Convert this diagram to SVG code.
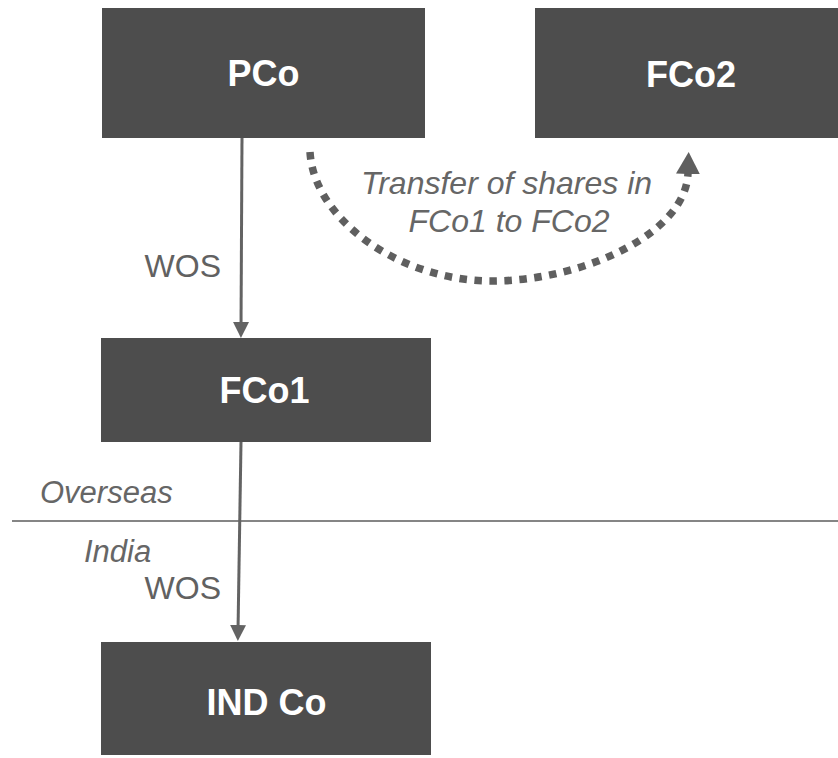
<svg xmlns="http://www.w3.org/2000/svg" width="838" height="758" viewBox="0 0 838 758">
  <style>
    .box { fill: #4d4d4d; }
    .box-label { font-family: "Liberation Sans", Arial, sans-serif; font-size: 36px; font-weight: bold; fill: #ffffff; text-anchor: middle; }
    .edge-label { font-family: "Liberation Sans", Arial, sans-serif; font-size: 32px; fill: #616161; }
    .note { font-family: "Liberation Sans", Arial, sans-serif; font-style: italic; fill: #666666; }
    .link { stroke: #636363; stroke-width: 3; fill: none; }
    .transfer { stroke: #5f5f5f; stroke-width: 7.5; fill: none; stroke-dasharray: 7.5 7.5; }
    .divider { stroke: #858585; stroke-width: 2; }
  </style>
  <defs>
    <marker id="head" viewBox="0 0 16 16" markerWidth="16" markerHeight="16" markerUnits="userSpaceOnUse" refX="6" refY="8" orient="auto">
      <path d="M0,0 L16,8 L0,16 z" fill="#636363"/>
    </marker>
    <marker id="head-big" viewBox="0 0 22 24" markerWidth="22" markerHeight="24" markerUnits="userSpaceOnUse" refX="1" refY="12" orient="auto">
      <path d="M0,0 L22,12 L0,24 z" fill="#5f5f5f"/>
    </marker>
  </defs>

  <!-- jurisdiction divider -->
  <line class="divider" x1="12" y1="521" x2="838" y2="521"/>
  <text class="note" x="40" y="503" font-size="31">Overseas</text>
  <text class="note" x="84" y="562" font-size="31">India</text>

  <!-- nodes -->
  <g id="pco">
    <rect class="box" x="102" y="8" width="323" height="130"/>
    <text class="box-label" x="263.5" y="86">PCo</text>
  </g>
  <g id="fco2">
    <rect class="box" x="535" y="8" width="310" height="130"/>
    <text class="box-label" x="691" y="87">FCo2</text>
  </g>
  <g id="fco1">
    <rect class="box" x="101" y="338" width="330" height="104"/>
    <text class="box-label" x="264.5" y="403">FCo1</text>
  </g>
  <g id="indco">
    <rect class="box" x="101" y="642" width="330" height="113"/>
    <text class="box-label" x="266.5" y="715">IND Co</text>
  </g>

  <!-- connectors -->
  <g id="connectors">
    <line class="link" x1="242" y1="138" x2="241" y2="328" marker-end="url(#head)"/>
    <line class="link" x1="241" y1="442" x2="238" y2="631" marker-end="url(#head)"/>
    <text class="edge-label" x="221" y="277" text-anchor="end">WOS</text>
    <text class="edge-label" x="221" y="599" text-anchor="end">WOS</text>

    <path class="transfer" d="M310,152 C314,220 400,281 492,281 C580,281 686,235 688,173" marker-end="url(#head-big)"/>
    <text class="note" font-size="32" text-anchor="middle">
      <tspan x="511" y="194">Transfer of shares in</tspan>
      <tspan x="509" y="232">FCo1 to FCo2</tspan>
    </text>
  </g>
</svg>
